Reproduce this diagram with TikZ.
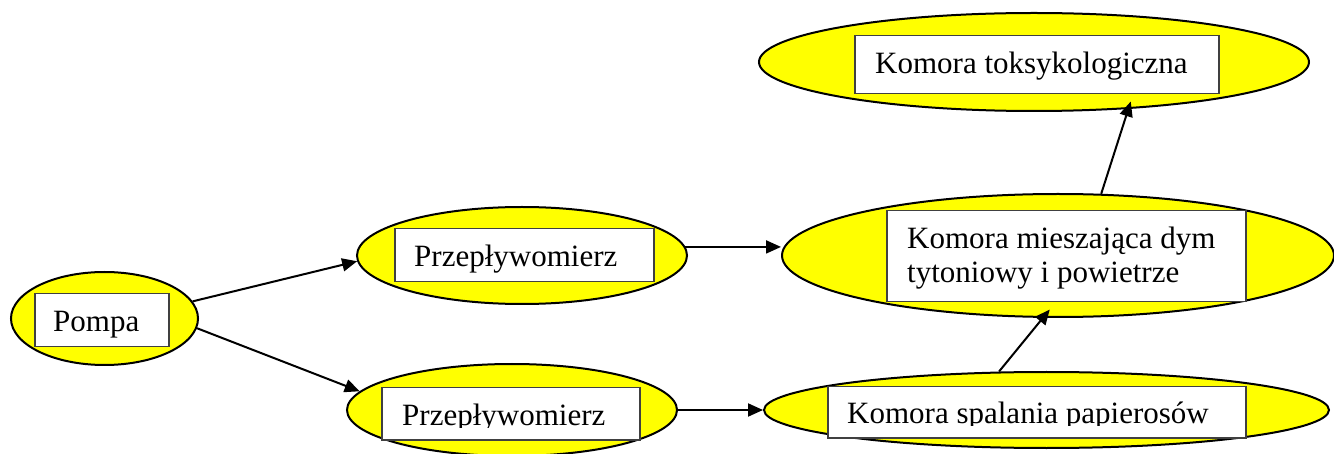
\documentclass[tikz,border=0pt]{standalone}
\usepackage{fontspec}
\setmainfont{Liberation Serif}
\usetikzlibrary{shapes.geometric,arrows.meta,calc}
\definecolor{fillyellow}{HTML}{FFFF00}
\definecolor{boxedge}{HTML}{404040}
\newfontfamily\boxfont{Liberation Serif}
\tikzset{
  oval/.style={ellipse, draw=black, line width=2pt, fill=fillyellow, inner sep=0pt},
  textbox/.style={rectangle, draw=boxedge, line width=1.5pt, fill=white, inner sep=0pt, anchor=north west},
  boxtext/.style={inner sep=0pt, anchor=base west, font=\boxfont\fontsize{31}{34}\selectfont},
  flow/.style={line width=2pt, -{Triangle[length=15pt,width=13pt]}}
}
\begin{document}
\begin{tikzpicture}[x=1pt,y=-1pt]
\useasboundingbox (0,0) rectangle (1334,454);
% ellipses
\node[oval, minimum width=187pt, minimum height=93pt] (pompa) at (104.5,318.5) {};
\node[oval, minimum width=330pt, minimum height=97pt] (pu) at (522,255.5) {};
\node[oval, minimum width=330pt, minimum height=92pt] (pl) at (512,410) {};
\node[oval, minimum width=552pt, minimum height=123pt] (mix) at (1058,255.5) {};
\node[oval, minimum width=565pt, minimum height=76pt] (cb) at (1046.5,410) {};
\node[oval, minimum width=550pt, minimum height=98pt] (tox) at (1034,62) {};
% connectors
\draw[flow] (pompa.11) -- (pu.182);
\draw[flow] (pompa.-6) -- (pl.173);
\draw[flow] (pu.3) -- (pu.3 -| mix.west);
\draw[flow] (pl.east) -- (cb.west);
% text boxes
\node[textbox, minimum width=134pt, minimum height=53pt] (pompar) at (34,293) {};
\node[textbox, minimum width=259pt, minimum height=53pt] (pur) at (394,228) {};
\node[textbox, minimum width=258pt, minimum height=52pt] (plr) at (381,387) {};
\node[textbox, minimum width=359pt, minimum height=91pt] (mixr) at (886,210) {};
\node[textbox, minimum width=364pt, minimum height=58pt] (toxr) at (854,35) {};
\draw[flow] (cb.141.5) -- ($(mixr.south)+(-16.5,7)$);
\draw[flow] (mix.55) -- ($(toxr.south)+(94,7)$);
\node[textbox, minimum width=418pt, minimum height=51pt] (cbr) at (827,386) {};
% texts
\node[boxtext] (t1) at ($(pompar.north west)+(19,39)$) {Pompa};
\node[boxtext] (t2) at ($(pur.north west)+(20,39)$) {Przepływomierz};
\begin{scope}
\clip (plr.north west) rectangle ($(plr.north east)+(0,40)$);
\node[boxtext] (t3) at ($(plr.north west)+(21,38.5)$) {Przepływomierz};
\end{scope}
\node[boxtext] (t4a) at ($(mixr.north west)+(21,39)$) {Komora mieszająca dym};
\node[boxtext] (t4b) at ($(mixr.north west)+(21,73)$) {tytoniowy i powietrze};
\node[boxtext] (t5) at ($(toxr.north west)+(21,39)$) {Komora toksykologiczna};
\begin{scope}
\clip (cbr.north west) rectangle ($(cbr.north east)+(0,39)$);
\node[boxtext] (t6) at ($(cbr.north west)+(20,37.5)$) {Komora spalania papierosów};
\end{scope}
\end{tikzpicture}
\end{document}
